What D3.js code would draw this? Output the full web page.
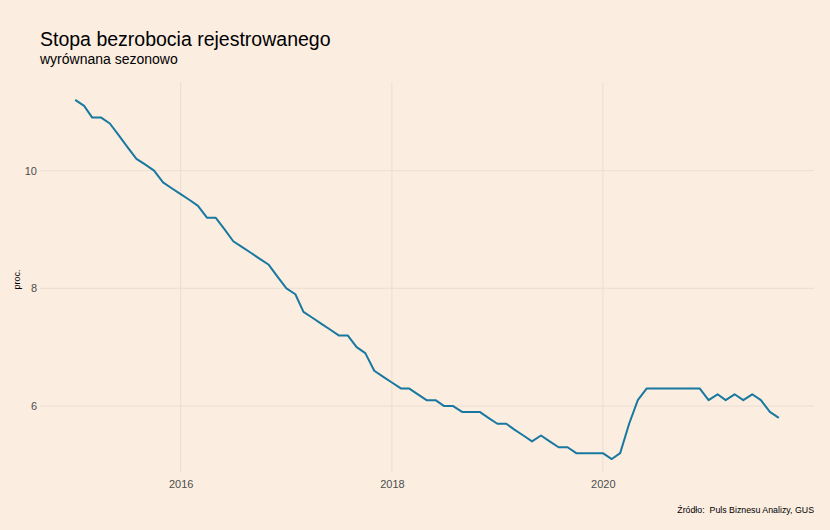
<!DOCTYPE html>
<html>
<head>
<meta charset="utf-8">
<script src="https://cdn.jsdelivr.net/npm/d3@7"></script>
<style>
  html, body { margin: 0; padding: 0; background: #fbede0; }
  svg { display: block; }
  text { font-family: "Liberation Sans", Arial, sans-serif; }
</style>
</head>
<body>
<svg id="chart" width="830" height="530"></svg>
<script>
// ---- data ----
const startMonth = "2015-01";
const rates = [
  11.2, 11.1, 10.9, 10.9, 10.8, 10.6, 10.4, 10.2, 10.1, 10.0, 9.8, 9.7,
  9.6, 9.5, 9.4, 9.2, 9.2, 9.0, 8.8, 8.7, 8.6, 8.5, 8.4, 8.2,
  8.0, 7.9, 7.6, 7.5, 7.4, 7.3, 7.2, 7.2, 7.0, 6.9, 6.6, 6.5,
  6.4, 6.3, 6.3, 6.2, 6.1, 6.1, 6.0, 6.0, 5.9, 5.9, 5.9, 5.8,
  5.7, 5.7, 5.6, 5.5, 5.4, 5.5, 5.4, 5.3, 5.3, 5.2, 5.2, 5.2,
  5.2, 5.1, 5.2, 5.7, 6.1, 6.3, 6.3, 6.3, 6.3, 6.3, 6.3, 6.3,
  6.1, 6.2, 6.1, 6.2, 6.1, 6.2, 6.1, 5.9, 5.8
];
const xTicks = [2016, 2018, 2020];
const yTicks = [6, 8, 10];
const titleText = "Stopa bezrobocia rejestrowanego";
const subtitleText = "wyrównana sezonowo";
const yLabel = "proc.";
const captionText = "Źródło:  Puls Biznesu Analizy, GUS";

// ---- build ----
const parse = d3.timeParse("%Y-%m");
const t0 = parse(startMonth);
const data = rates.map((v, i) => ({ date: d3.timeMonth.offset(t0, i), value: v }));

const svg = d3.select("#chart");
const panel = { left: 40, right: 814, top: 82, bottom: 477 };

function expand(ext) {
  const span = ext[1] - ext[0];
  return [ext[0] - 0.05 * span, ext[1] + 0.05 * span];
}
const xExt = d3.extent(data, d => +d.date);
const x = d3.scaleTime()
  .domain(expand(xExt).map(v => new Date(v)))
  .range([panel.left, panel.right]);
const y = d3.scaleLinear()
  .domain(expand(d3.extent(data, d => d.value)))
  .range([panel.bottom, panel.top]);

// grid
const gridColor = "#ebdfd2";
svg.append("g").selectAll("line.h").data(yTicks).join("line")
  .attr("x1", panel.left).attr("x2", panel.right)
  .attr("y1", d => y(d)).attr("y2", d => y(d))
  .attr("stroke", gridColor).attr("stroke-width", 1);
const xTickDates = xTicks.map(yr => new Date(yr, 0, 1));
svg.append("g").selectAll("line.v").data(xTickDates).join("line")
  .attr("y1", panel.top).attr("y2", panel.bottom - 5)
  .attr("x1", d => x(d)).attr("x2", d => x(d))
  .attr("stroke", gridColor).attr("stroke-width", 1);

// axes (labels only)
const yAxis = d3.axisLeft(y).tickValues(yTicks).tickSize(0).tickPadding(3).tickFormat(d3.format("d"));
const gy = svg.append("g").attr("transform", `translate(${panel.left},0)`).call(yAxis);
gy.select(".domain").remove();
gy.selectAll("text").attr("font-size", 11).attr("fill", "#4d4d4d")
  .attr("font-family", "Liberation Sans, Arial, sans-serif");

const xAxis = d3.axisBottom(x).tickValues(xTickDates).tickSize(0).tickPadding(3).tickFormat(d3.timeFormat("%Y"));
const gx = svg.append("g").attr("transform", `translate(0,${panel.bottom})`).call(xAxis);
gx.select(".domain").remove();
gx.selectAll("text").attr("font-size", 11).attr("fill", "#4d4d4d")
  .attr("font-family", "Liberation Sans, Arial, sans-serif");

// line
const line = d3.line().x(d => x(d.date)).y(d => y(d.value));
svg.append("path").datum(data)
  .attr("d", line)
  .attr("fill", "none")
  .attr("stroke", "#18789f")
  .attr("stroke-width", 2)
  .attr("stroke-linejoin", "round");

// texts
svg.append("text").attr("x", 40).attr("y", 46)
  .attr("font-size", 19.5).attr("fill", "#000").text(titleText);
svg.append("text").attr("x", 40).attr("y", 64)
  .attr("font-size", 14).attr("fill", "#000").text(subtitleText);
svg.append("text")
  .attr("transform", `translate(20,${(panel.top + panel.bottom) / 2}) rotate(-90)`)
  .attr("text-anchor", "middle").attr("font-size", 9).attr("fill", "#000").text(yLabel);
svg.append("text").attr("x", 814).attr("y", 513).attr("text-anchor", "end")
  .style("white-space", "pre")
  .attr("font-size", 8.8).attr("fill", "#000").text(captionText);
</script>
</body>
</html>
